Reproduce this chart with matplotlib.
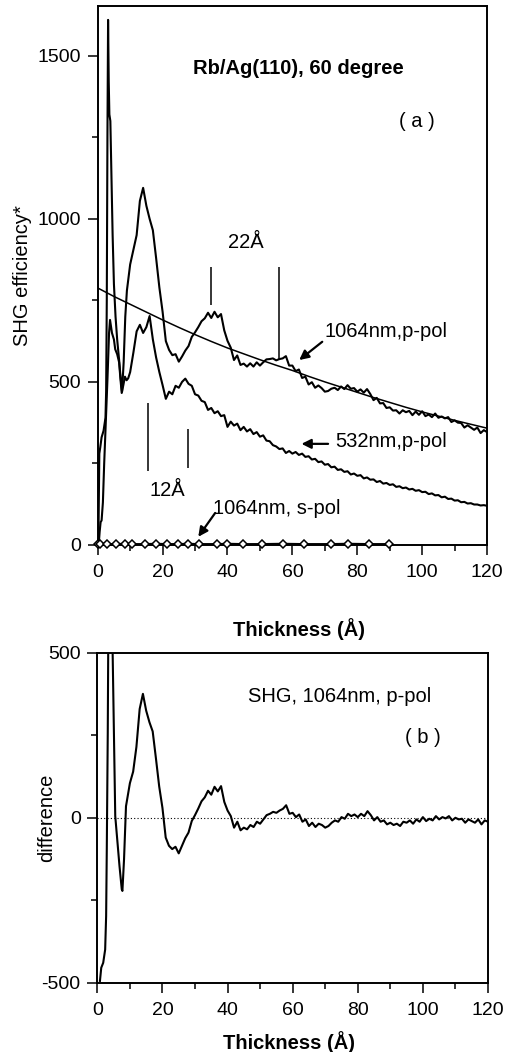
import matplotlib
matplotlib.use('Agg')
import matplotlib.pyplot as plt

plt.rcParams['font.family'] = ['Liberation Sans', 'DejaVu Sans']
plt.rcParams['axes.unicode_minus'] = False

################################################################################
# DATA (thickness in Angstrom)

# smooth fit through the 1064nm p-pol data
fit_x = [0, 5, 10, 15, 20, 25, 30, 35, 40, 45, 50, 55, 60, 65, 70, 75, 80,
         85, 90, 95, 100, 105, 110, 115, 120]
fit_y = [788, 762, 738, 714, 690, 667, 645, 624, 604, 586, 568, 551, 535,
         517, 500, 484, 468, 452, 437, 422, 408, 395, 382, 370, 358]

# 1064nm, p-pol measured
p1064_x = [0.2, 0.5, 0.8, 1.2, 1.8, 2.4, 2.6, 2.8, 3.0, 3.2, 3.4, 3.6, 3.9,
           4.2, 4.6, 5.0, 5.5, 6.0, 6.6, 7.0, 7.5, 8.0, 8.5, 9.0, 9.5] + list(range(10, 121))
p1064_y = [0, 280, 300, 330, 350, 390, 470, 750, 1250, 1610, 1420, 1320, 1300,
           1150, 950, 800, 700, 630, 567, 520, 470, 560, 700, 780, 820,
           860, 905, 950, 1055, 1095, 1040, 1000, 965, 880, 790,
           715, 625, 598, 582, 585, 562, 578, 596, 610, 638,
           652, 668, 686, 695, 712, 696, 715, 698, 708, 658,
           626, 605, 567, 581, 552, 556, 547, 557, 547, 560,
           550, 560, 569, 570, 572, 566, 570, 572, 579, 550,
           550, 533, 538, 512, 516, 492, 499, 482, 489, 481,
           470, 472, 479, 482, 475, 486, 478, 490, 479, 481,
           470, 477, 467, 478, 463, 444, 451, 434, 435, 420,
           422, 412, 413, 403, 413, 407, 411, 398, 409, 399,
           410, 395, 400, 392, 403, 390, 394, 388, 392, 377,
           382, 375, 374, 360, 367, 360, 353, 360, 343, 352,
           346]

# 532nm, p-pol measured
p532_x = [0.3, 0.6, 0.9, 1.2, 1.6, 2.0, 2.5, 3.0, 3.5, 3.8, 4.4, 5.0, 5.4,
          6.0, 6.6, 7.0, 7.4, 7.9, 8.4, 8.9, 9.4] + list(range(10, 121))
p532_y = [0, 40, 70, 75, 130, 250, 380, 506, 650, 690, 650, 630, 600,
          585, 560, 510, 466, 490, 516, 505, 511,
          530, 590, 655, 675, 650, 668, 702, 630, 575, 530,
          490, 448, 470, 462, 488, 482, 500, 510, 494, 488,
          462, 458, 442, 438, 414, 420, 404, 410, 395, 398,
          362, 378, 366, 372, 352, 362, 348, 355, 340, 346,
          332, 336, 320, 318, 306, 302, 294, 296, 282, 288,
          280, 285, 276, 280, 270, 272, 262, 264, 254, 256,
          246, 248, 238, 240, 230, 232, 224, 226, 216, 219,
          212, 214, 204, 207, 200, 201, 193, 196, 188, 190,
          184, 186, 178, 180, 174, 176, 170, 172, 166, 168,
          162, 163, 156, 158, 152, 153, 146, 148, 141, 142,
          136, 137, 131, 132, 127, 128, 124, 124, 121, 122,
          120]

# 1064nm, s-pol measured (diamonds)
s1064_x = [0, 0.6, 3.0, 5.5, 8.4, 10.7, 14.6, 17.9, 21.4, 24.9, 27.7, 31.2,
           36.9, 39.8, 44.9, 50.5, 57.0, 63.6, 71.8, 77.0, 83.7, 89.8]
s1064_y = [4, 4, 3, 3, 4, 3, 3, 4, 3, 3, 4, 3,
           3, 4, 3, 3, 4, 3, 3, 4, 3, 3]

# difference = 1064nm p-pol data minus fit
diff_x = [0.8, 1.2, 1.8, 2.4, 2.7, 2.9, 3.2, 3.5, 3.9, 4.3, 4.7, 5.1, 5.5,
          6.1, 6.8, 7.5, 7.7, 8.2, 8.8, 9.5] + list(range(10, 121))
diff_y = [-495, -455, -440, -400, -298, -96, 258, 800, 580, 560, 500, 258, 5,
          -66, -146, -217, -222, -126, 35, 76,
          105, 140, 215, 330, 376, 325, 290, 262, 180, 95,
          30, -60, -85, -95, -88, -108, -85, -62, -45, -10,
          8, 28, 50, 62, 82, 70, 94, 80, 96, 48,
          22, 5, -30, -12, -38, -30, -35, -22, -28, -12,
          -18, -5, 8, 12, 18, 15, 22, 27, 38, 12,
          15, 2, 10, -12, -5, -25, -15, -28, -18, -22,
          -30, -25, -15, -8, -12, 2, -3, 12, 5, 10,
          2, 12, 5, 20, 8, -8, 2, -12, -8, -20,
          -15, -22, -18, -25, -12, -15, -8, -18, -5, -12,
          2, -10, -3, -8, 5, -5, 2, -2, 5, -8,
          0, -5, -3, -15, -5, -10, -15, -5, -20, -8,
          -12]

# marker lines for the oscillation periods
mark22_x = [34.9, 56.0]
mark22_lo = [736, 567]
mark22_hi = [853, 853]
mark12_x = [15.5, 27.9]
mark12_lo = [227, 236]
mark12_hi = [436, 356]

x_ticks = [0, 20, 40, 60, 80, 100, 120]

################################################################################

fs = 14.5
fig = plt.figure(figsize=(5.07, 10.52), dpi=100)
top = fig.add_axes([0.1927, 0.482, 0.768, 0.5124])
bot = fig.add_axes([0.1920, 0.066, 0.7705, 0.3133])

for ax in (top, bot):
    ax.set_xlim(0, 120)
    ax.set_xticks(x_ticks)
    ax.set_xticks(range(10, 120, 20), minor=True)
    ax.tick_params(which='major', direction='out', length=7, width=1.1,
                   labelsize=14)
    ax.tick_params(which='minor', direction='out', length=4, width=1.1)
    ax.tick_params(axis='x', which='major', pad=7)
    ax.tick_params(axis='y', which='major', pad=5)
    for s in ax.spines.values():
        s.set_linewidth(1.4)

# (a) SHG efficiency
top.plot(fit_x, fit_y, color='black', lw=1.1)
top.plot(p1064_x, p1064_y, color='black', lw=1.5)
top.plot(p532_x, p532_y, color='black', lw=1.5)
top.plot(s1064_x, s1064_y, color='black', lw=1.3, marker='D', markersize=4,
         markerfacecolor='white', markeredgecolor='black', markeredgewidth=1.1,
         clip_on=False, zorder=5)
top.vlines(mark22_x, mark22_lo, mark22_hi, color='black', lw=1.1)
top.vlines(mark12_x, mark12_lo, mark12_hi, color='black', lw=1.1)

top.set_ylim(0, 1653)
top.set_yticks([0, 500, 1000, 1500])
top.set_yticks([250, 750, 1250], minor=True)
top.set_ylabel('SHG efficiency*', fontsize=fs)
top.yaxis.set_label_coords(-0.17, 0.5)
top.set_xlabel('Thickness (Å)', fontsize=fs, fontweight='bold')
top.xaxis.set_label_coords(0.517, -0.135)

top.text(61.7, 1460, 'Rb/Ag(110), 60 degree', fontsize=fs, fontweight='bold',
         ha='center', va='center')
top.text(98.5, 1298, '( a )', fontsize=fs, ha='center', va='center')
top.text(45.7, 926, '22Å', fontsize=fs, ha='center', va='center')
top.text(21.4, 166, '12Å', fontsize=fs, ha='center', va='center')
top.text(70, 653, '1064nm,p-pol', fontsize=fs, ha='left', va='center')
top.text(73.2, 316, '532nm,p-pol', fontsize=fs, ha='left', va='center')
top.text(35.5, 113, '1064nm, s-pol', fontsize=fs, ha='left', va='center')

arrow = dict(arrowstyle='-|>', color='black', lw=1.6, mutation_scale=14,
             shrinkA=0, shrinkB=0)
top.annotate('', xy=(62.1, 567), xytext=(69.2, 623), arrowprops=arrow)
top.annotate('', xy=(62.8, 310), xytext=(71.0, 310), arrowprops=arrow)
top.annotate('', xy=(31.0, 25), xytext=(36.2, 98), arrowprops=arrow)

# (b) difference
bot.axhline(0, color='black', lw=0.8, ls=(0, (1, 2)))
bot.plot(diff_x, diff_y, color='black', lw=1.5)
bot.set_ylim(-500, 500)
bot.set_yticks([-500, 0, 500])
bot.set_yticks([-250, 250], minor=True)
bot.set_ylabel('difference', fontsize=fs)
bot.yaxis.set_label_coords(-0.105, 0.5)
bot.set_xlabel('Thickness (Å)', fontsize=fs, fontweight='bold')
bot.xaxis.set_label_coords(0.49, -0.148)

bot.text(46.3, 368, 'SHG, 1064nm, p-pol', fontsize=fs, ha='left', va='center')
bot.text(100, 243, '( b )', fontsize=fs, ha='center', va='center')

fig.savefig('out.png', dpi=100)
